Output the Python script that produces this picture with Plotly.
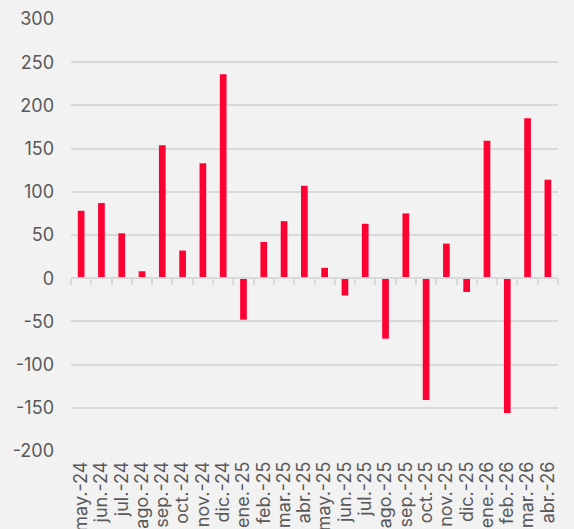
import plotly.graph_objects as go

categories = ["may.-24", "jun.-24", "jul.-24", "ago.-24", "sep.-24", "oct.-24", "nov.-24", "dic.-24",
              "ene.-25", "feb.-25", "mar.-25", "abr.-25", "may.-25", "jun.-25", "jul.-25", "ago.-25",
              "sep.-25", "oct.-25", "nov.-25", "dic.-25", "ene.-26", "feb.-26", "mar.-26", "abr.-26"]
values = [78, 87, 52, 8, 154, 32, 133, 236,
          -48, 42, 66, 107, 12, -20, 63, -70,
          75, -141, 40, -16, 159, -156, 185, 114]
y_ticks = [-200, -150, -100, -50, 0, 50, 100, 150, 200, 250, 300]
y_tick_text = [str(v) for v in y_ticks]

y_min, y_max = -200, 300
bar_color = "#ff0033"
grid_color = "#d9d9d9"
text_color = "#595959"
bg_color = "#f2f2f2"
font_family = "Inter, 'Open Sans', sans-serif"

fig = go.Figure()
fig.add_trace(go.Bar(x=categories, y=values, marker=dict(color=bar_color, line=dict(width=0)),
                     xaxis="x", yaxis="y", showlegend=False, hoverinfo="x+y"))
# invisible trace to activate the zero-line tick axis
fig.add_trace(go.Bar(x=categories, y=[0] * len(categories), xaxis="x2", yaxis="y",
                     marker=dict(color="rgba(0,0,0,0)"), showlegend=False, hoverinfo="skip"))

fig.update_layout(
    width=574, height=529,
    paper_bgcolor=bg_color, plot_bgcolor=bg_color,
    margin=dict(l=71, r=16, t=19, b=78, autoexpand=False),
    bargap=0.67, barmode="overlay",
    font=dict(family=font_family, color=text_color),
    xaxis=dict(type="category", categoryorder="array", categoryarray=categories,
               tickmode="array", tickvals=categories, ticktext=categories,
               showgrid=False, zeroline=False, showline=False, ticks="",
               tickangle=-90, ticklabelstandoff=6,
               tickfont=dict(size=18, color=text_color, family=font_family),
               automargin=False),
    xaxis2=dict(type="category", categoryorder="array", categoryarray=categories,
                overlaying="x", matches="x", anchor="free",
                position=(0 - y_min) / (y_max - y_min),
                showgrid=False, zeroline=False, showline=True, linecolor=grid_color, linewidth=1.5,
                ticks="outside", tickson="boundaries", ticklen=6, tickwidth=1.5, tickcolor=grid_color,
                showticklabels=False),
    yaxis=dict(range=[y_min, y_max], tickmode="array", tickvals=y_ticks, ticktext=y_tick_text,
               showgrid=True, gridcolor=grid_color,
               gridwidth=1.5, zeroline=False, showline=False, ticks="",
               ticklabelstandoff=16,
               tickfont=dict(size=18, color=text_color, family=font_family), automargin=False),
)

fig.write_html("out.html", config={"displayModeBar": False},
               post_script="document.body.style.margin='0';document.body.style.background='%s';" % bg_color)
